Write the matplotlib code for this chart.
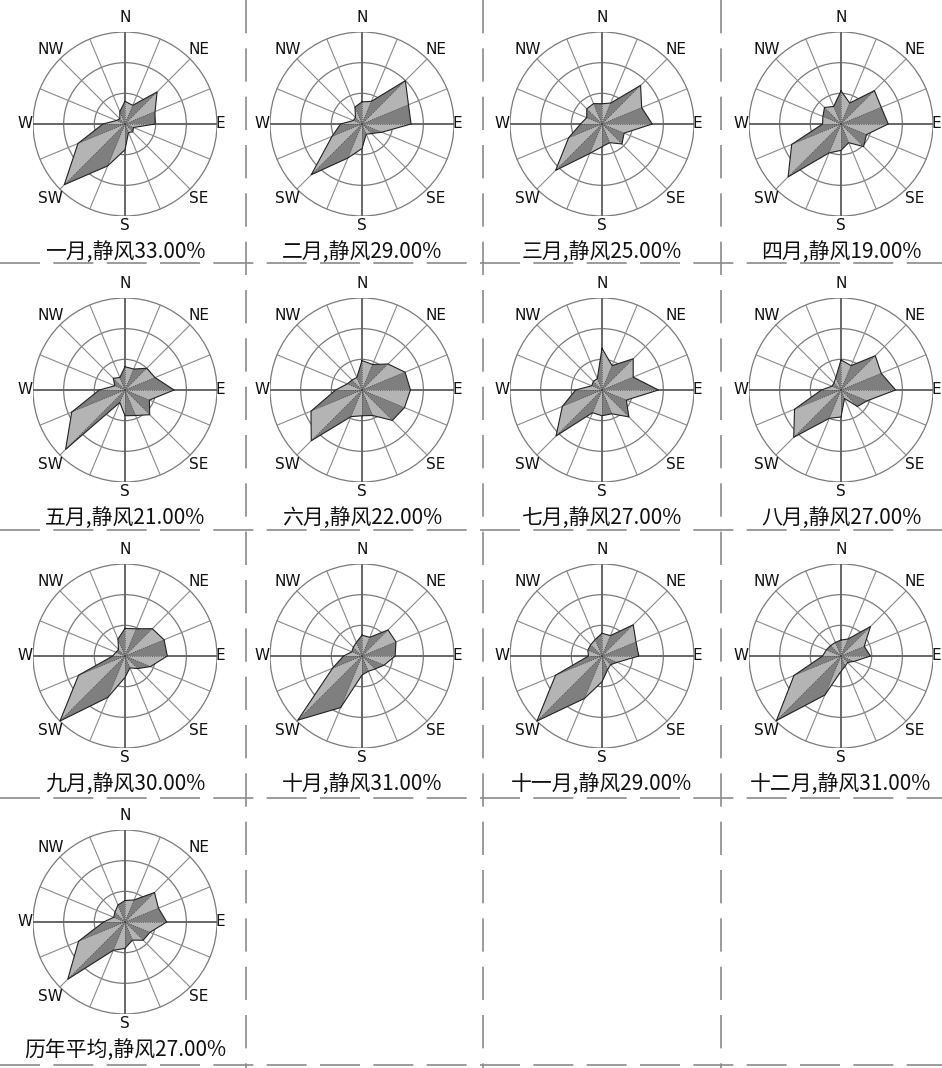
import numpy as np
import matplotlib.pyplot as plt
from matplotlib.patches import Circle

plt.rcParams['font.family'] = ['Noto Sans CJK SC', 'DejaVu Sans']

# 16 wind directions, clockwise from north
directions = ['N', 'NNE', 'NE', 'ENE', 'E', 'ESE', 'SE', 'SSE',
              'S', 'SSW', 'SW', 'WSW', 'W', 'WNW', 'NW', 'NNW']

titles = ['一月', '二月', '三月', '四月', '五月', '六月', '七月', '八月',
          '九月', '十月', '十一月', '十二月', '历年平均']
calm = [33, 29, 25, 19, 21, 22, 27, 27, 30, 31, 29, 31, 27]

# direction frequencies (%) (outer ring = 15%)
jan = [3.7, 3.3, 7.4, 5.3, 4.9, 1.5, 1.8, 1.5, 4.2, 7.4, 14.0, 8.3, 3.6, 1.5, 1.2, 2.2]
feb = [3.6, 4.0, 10.0, 8.2, 8.0, 3.5, 2.2, 1.8, 4.0, 6.0, 11.7, 5.3, 3.5, 1.5, 1.5, 3.0]
mar = [3.3, 3.7, 8.9, 7.0, 8.2, 3.9, 4.6, 3.3, 3.7, 5.2, 10.7, 5.9, 3.5, 2.7, 3.5, 3.6]
apr = [5.4, 3.7, 7.7, 7.1, 7.7, 4.5, 5.2, 3.3, 4.3, 5.1, 12.2, 8.7, 3.0, 3.2, 3.8, 3.1]
may = [3.8, 3.7, 5.0, 5.3, 8.0, 4.3, 5.7, 4.5, 4.2, 2.2, 13.7, 9.4, 4.2, 1.8, 2.7, 2.2]
jun = [4.8, 4.5, 6.0, 7.6, 7.9, 7.5, 7.0, 4.5, 4.2, 4.7, 11.7, 9.0, 4.3, 2.6, 2.3, 2.2]
jul = [6.8, 4.3, 7.2, 5.5, 9.2, 4.3, 6.2, 4.2, 4.2, 4.0, 10.6, 7.0, 4.3, 1.8, 2.0, 2.0]
aug = [4.9, 4.3, 7.9, 7.1, 8.9, 4.6, 3.8, 1.5, 4.4, 5.0, 10.9, 8.2, 3.2, 1.6, 1.6, 2.2]
sep = [4.5, 4.8, 6.3, 6.9, 6.9, 4.5, 2.9, 2.1, 3.5, 7.3, 15.0, 8.2, 2.0, 1.6, 1.5, 3.0]
oct_ = [3.4, 3.3, 6.0, 6.0, 5.4, 3.9, 3.0, 2.7, 3.1, 9.1, 14.8, 5.2, 3.0, 1.8, 2.0, 2.4]
nov = [3.7, 3.6, 7.2, 6.0, 6.0, 2.7, 2.0, 2.4, 4.2, 7.5, 15.0, 8.2, 2.2, 2.5, 2.6, 2.9]
dec = [2.6, 3.0, 6.8, 4.1, 4.8, 2.3, 1.5, 1.8, 2.5, 6.9, 14.9, 8.3, 3.0, 2.6, 2.4, 2.4]
avg = [3.5, 3.9, 6.8, 5.9, 6.8, 4.4, 4.2, 3.2, 4.3, 5.0, 13.2, 8.2, 3.5, 2.0, 2.3, 3.0]

roses = [jan, feb, mar, apr, may, jun, jul, aug, sep, oct_, nov, dec, avg]

rings = [5, 10, 15]
W, H = 942, 1068
col_x = [125, 362, 602, 841]     # rose centres, pixels
row_y = [124, 390, 656, 922]
R = 92                           # outer ring radius, pixels

fig = plt.figure(figsize=(W / 100, H / 100), dpi=100)

# background axes in pixel units for the dashed cell borders and captions
bg = fig.add_axes([0, 0, 1, 1])
bg.set_xlim(0, W)
bg.set_ylim(H, 0)
bg.axis('off')
for x in [246, 483, 721]:
    bg.plot([x, x], [0, H], color='#8a8a8a', lw=1.2, ls=(0, (20, 9)))
for y in [263, 530, 798, 1065]:
    bg.plot([0, W], [y, y], color='#8a8a8a', lw=1.2, ls=(0, (24, 8)))

theta = np.deg2rad(np.arange(16) * 22.5)
label_pos = {'N': (0, 1.16), 'NE': (45, 1.14), 'E': (90, 1.04), 'SE': (135, 1.14),
             'S': (180, 1.1), 'SW': (225, 1.14), 'W': (270, 1.09), 'NW': (315, 1.14)}

for k, vals in enumerate(roses):
    cx = col_x[k % 4]
    cy = row_y[k // 4]
    ax = fig.add_axes([(cx - R) / W, (H - cy - R) / H, 2 * R / W, 2 * R / H])
    ax.set_xlim(-15, 15)
    ax.set_ylim(-15, 15)
    ax.axis('off')

    # rings and spokes
    for r in rings:
        ax.add_patch(Circle((0, 0), r, fill=False, ec='#7a7a7a', lw=0.9, zorder=1))
    for i, t in enumerate(theta):
        main = i % 4 == 0
        ax.plot([0, 15 * np.sin(t)], [0, 15 * np.cos(t)],
                color='#666666' if main else '#8a8a8a', lw=1.4 if main else 0.8, zorder=1)

    # rose: one triangle per sector, alternating shades
    v = np.array(vals)
    xs = v * np.sin(theta)
    ys = v * np.cos(theta)
    for i in range(16):
        j = (i + 1) % 16
        shade = '#7f7f7f' if i % 2 else '#b4b4b4'
        ax.fill([0, xs[i], xs[j]], [0, ys[i], ys[j]], color=shade, lw=0, zorder=2)
        ax.plot([0, xs[i]], [0, ys[i]], color='#444444', lw=0.6, ls=':', zorder=3)
    ax.plot(np.append(xs, xs[0]), np.append(ys, ys[0]), color='#222222', lw=0.8, zorder=3)

    for name, (deg, rr) in label_pos.items():
        a = np.deg2rad(deg)
        ax.text(15 * rr * np.sin(a), 15 * rr * np.cos(a), name, ha='center', va='center',
                fontsize=11, family='DejaVu Sans', color='#111111')

    bg.text(cx, row_y[k // 4] + 139, titles[k] + ',静风%.2f%%' % calm[k],
            ha='center', va='bottom', fontsize=15, color='#111111')

plt.savefig('out.png', dpi=100)
